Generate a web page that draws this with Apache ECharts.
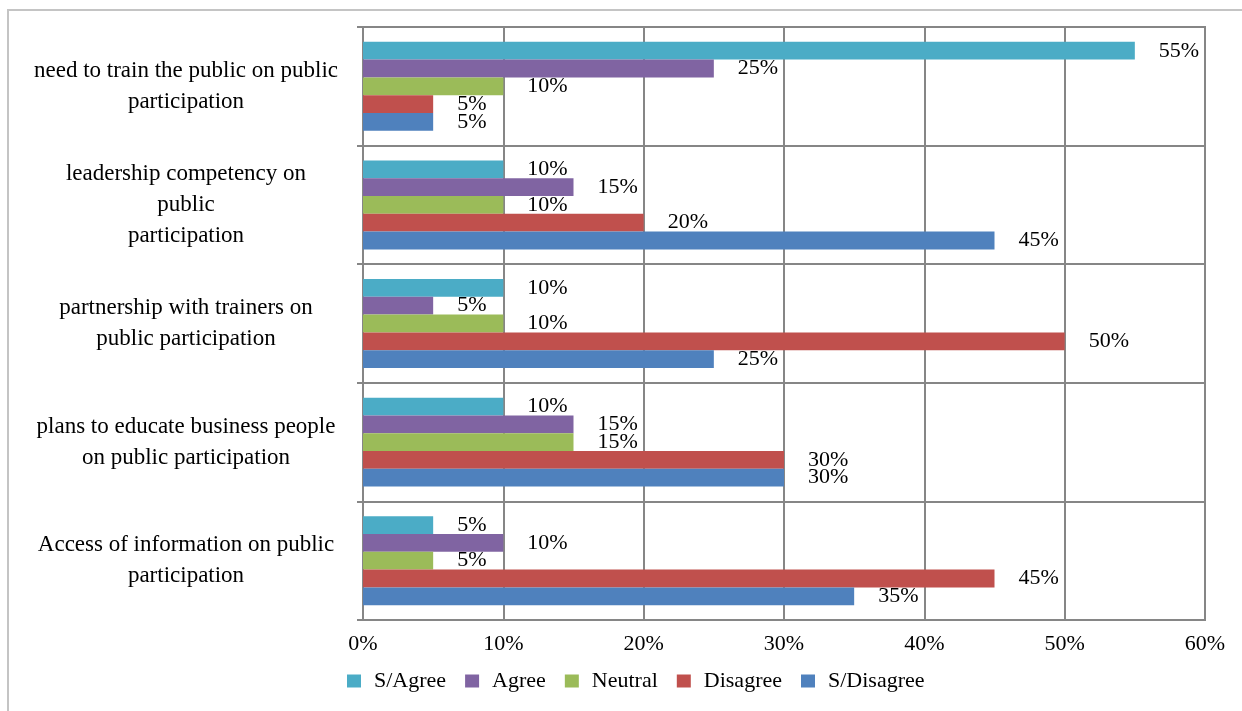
<!DOCTYPE html>
<html>
<head>
<meta charset="utf-8">
<script src="https://cdn.jsdelivr.net/npm/echarts@6/dist/echarts.min.js"></script>
<style>
html,body{margin:0;padding:0;background:#fff;}
#chart{width:1242px;height:711px;}
</style>
</head>
<body>
<div id="chart"></div>
<script>
const categories = [
  "need to train the public on public\nparticipation",
  "leadership competency on\npublic\nparticipation",
  "partnership with trainers on\npublic participation",
  "plans to educate business people\non public participation",
  "Access of information on public\nparticipation"
];
const seriesNames = ["S/Agree", "Agree", "Neutral", "Disagree", "S/Disagree"];
const sAgree    = [55, 10, 10, 10, 5];
const agree     = [25, 15, 5, 15, 10];
const neutral   = [10, 10, 10, 15, 5];
const disagree  = [5, 20, 50, 30, 45];
const sDisagree = [5, 45, 25, 30, 35];
const xTicks = [0, 10, 20, 30, 40, 50, 60];

const colors = ["#4BACC6", "#8064A2", "#9BBB59", "#C0504D", "#4F81BD"];
const values = [sAgree, agree, neutral, disagree, sDisagree];
const FONT = "'Liberation Serif', 'Times New Roman', serif";

const chart = echarts.init(document.getElementById('chart'));
chart.setOption({
  animation: false,
  graphic: [{
    type: 'rect',
    shape: { x: 8, y: 10, width: 1300, height: 760 },
    style: { fill: 'none', stroke: '#c4c4c4', lineWidth: 2 },
    z: -1
  }],
  grid: {
    left: 363, right: 37, top: 27, bottom: 91,
    show: true, borderColor: '#868686', borderWidth: 2
  },
  legend: {
    left: 342, top: 665,
    itemWidth: 14, itemHeight: 13, itemGap: 19,
    icon: 'rect',
    data: seriesNames,
    textStyle: { fontFamily: FONT, fontSize: 22, color: '#000', padding: [0,0,0,8] }
  },
  xAxis: {
    type: 'value', min: xTicks[0], max: xTicks[xTicks.length - 1], interval: 10,
    axisLine: { show: true, lineStyle: { color: '#868686', width: 2 } },
    axisTick: { show: false },
    splitLine: { show: true, lineStyle: { color: '#868686', width: 2 } },
    axisLabel: { formatter: '{value}%', fontFamily: FONT, fontSize: 22, color: '#000', margin: 13 }
  },
  yAxis: {
    type: 'category', data: categories, inverse: true,
    axisLine: { show: true, lineStyle: { color: '#868686', width: 2 } },
    axisTick: { show: true, length: 6, lineStyle: { color: '#868686', width: 2 } },
    splitLine: { show: true, lineStyle: { color: '#868686', width: 2 } },
    axisLabel: {
      fontFamily: FONT, fontSize: 23, color: '#000', align: 'center',
      margin: 177, lineHeight: 31
    }
  },
  series: seriesNames.map((name, i) => ({
    name: name, type: 'bar', data: values[i],
    barGap: '0%', barCategoryGap: '25%',
    itemStyle: { color: colors[i] },
    label: {
      show: true, position: 'right', distance: 24,
      formatter: '{c}%', fontFamily: FONT, fontSize: 22, color: '#000'
    }
  }))
});
</script>
</body>
</html>
